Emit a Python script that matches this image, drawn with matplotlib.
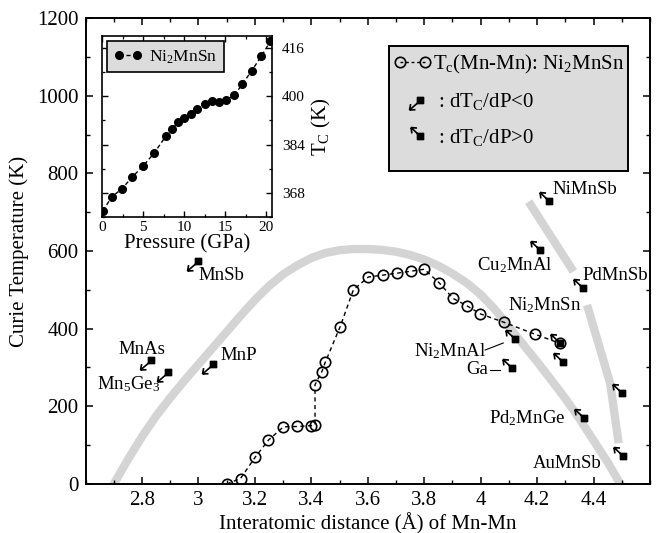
import numpy as np
import matplotlib
matplotlib.use('Agg')
import matplotlib.pyplot as plt
from matplotlib.path import Path
from matplotlib.lines import Line2D
from matplotlib.patches import Rectangle
from matplotlib.legend_handler import HandlerLine2D
from matplotlib.ticker import MultipleLocator, FormatStrFormatter

plt.rcParams['font.family'] = ['Liberation Serif', 'DejaVu Serif']
plt.rcParams['mathtext.fontset'] = 'custom'
plt.rcParams['mathtext.rm'] = 'Liberation Serif'
plt.rcParams['mathtext.it'] = 'Liberation Serif:italic'
plt.rcParams['mathtext.bf'] = 'Liberation Serif:bold'

# ---------------- data ----------------
# Ni2MnSn Tc vs Mn-Mn distance (open circles)
mn_dist = [3.100, 3.149, 3.202, 3.248, 3.301, 3.349, 3.398, 3.413, 3.413, 3.437,
           3.449, 3.502, 3.549, 3.602, 3.655, 3.705, 3.754, 3.800, 3.853, 3.902,
           3.951, 3.999, 4.084, 4.191, 4.282]
mn_tc = [0, 14, 70, 113, 147, 148, 150, 152, 256, 289,
         313, 405, 500, 533, 538, 543, 548, 553, 518, 478,
         459, 438, 416, 386, 362]

# grey guide curves
arc_d = [2.66, 2.70, 2.75, 2.80, 2.85, 2.90, 2.95, 3.00, 3.05, 3.10, 3.15, 3.20,
         3.25, 3.30, 3.35, 3.40, 3.45, 3.50, 3.55, 3.60, 3.65, 3.70, 3.75, 3.80,
         3.85, 3.90, 3.95, 4.00, 4.05, 4.10, 4.15, 4.20, 4.25, 4.30, 4.35, 4.40,
         4.45, 4.495, 4.52]
arc_t = [-50, 0, 63, 122, 175, 222, 266, 308, 350, 392, 434, 474,
         510, 540, 563, 582, 595, 602, 605, 605, 603, 598, 590, 578,
         562, 542, 518, 488, 450, 405, 360, 315, 268, 220, 168, 112,
         56, 0, -30]
right_a_d = [4.170, 4.329]
right_a_t = [727, 547]
right_b_d = [4.377, 4.459, 4.489]
right_b_t = [461, 259, 105]

# compounds with dTc/dP < 0
neg_names = ['MnSb', 'MnAs', 'Mn$_5$Ge$_3$', 'MnP']
neg_d = [3.000, 2.831, 2.891, 3.051]
neg_t = [573, 318, 289, 309]

# compounds with dTc/dP > 0
pos_names = ['NiMnSb', 'Cu$_2$MnAl', 'PdMnSb', 'Ni$_2$MnSn', 'Ni$_2$MnAl', 'Ga',
             '', 'Pd$_2$MnGe', '', 'AuMnSb']
pos_d = [4.241, 4.211, 4.362, 4.282, 4.123, 4.111, 4.292, 4.365, 4.501, 4.503]
pos_t = [730, 603, 504, 362, 373, 298, 315, 169, 234, 73]

# inset: Tc of Ni2MnSn vs pressure
pressure = [0.1, 1.2, 2.4, 3.7, 5.0, 6.35, 7.8, 8.5, 9.3, 10.0, 10.8,
            11.6, 12.5, 13.4, 14.2, 15.1, 16.1, 17.1, 18.2, 19.4, 20.5]
tc_pressure = [362.1, 366.7, 369.3, 373.3, 376.9, 381.2, 386.9, 389.2, 391.4, 392.9, 394.2,
               395.8, 397.4, 398.3, 398.0, 398.9, 400.3, 404.1, 408.4, 413.3, 418.3]

x_ticks = [2.8, 3.0, 3.2, 3.4, 3.6, 3.8, 4.0, 4.2, 4.4]
y_ticks = [0, 200, 400, 600, 800, 1000, 1200]
inset_yticks = [368, 384, 400, 416]

DPI = 100


def arrow_marker(tip, shift=0.0):
    """square + arrow marker; geometry in pixels (y up)."""
    h = 3.0
    tip = np.array(tip, float)
    u = -tip / np.hypot(*tip)
    arms = []
    for ang in (np.deg2rad(38), -np.deg2rad(38)):
        c, s = np.cos(ang), np.sin(ang)
        v = np.array([c * u[0] - s * u[1], s * u[0] + c * u[1]])
        arms.append(tip + 6.0 * v)
    verts = [(-h, -h), (h, -h), (h, h), (-h, h), (-h, -h),
             (0, 0), tuple(tip),
             tuple(tip), tuple(arms[0]),
             tuple(tip), tuple(arms[1])]
    verts = np.array(verts) + np.array([shift, 0])
    codes = [Path.MOVETO, Path.LINETO, Path.LINETO, Path.LINETO, Path.CLOSEPOLY,
             Path.MOVETO, Path.LINETO, Path.MOVETO, Path.LINETO, Path.MOVETO, Path.LINETO]
    m = np.max(np.abs(verts))
    size = 2 * m * 72.0 / DPI
    return Path(verts, codes), size


neg_path, neg_size = arrow_marker((-11, -9.5))
pos_path, pos_size = arrow_marker((-9.5, 9))
neg_path_l, neg_size_l = arrow_marker((-11, -9.5), shift=8.0)
pos_path_l, pos_size_l = arrow_marker((-9.5, 9), shift=8.0)

fig = plt.figure(figsize=(6.57, 5.33), dpi=DPI)
ax = fig.add_axes([0.1303, 0.092, 0.8590, 0.8742])

GREY = '#d4d4d4'
ax.plot(arc_d, arc_t, color=GREY, lw=6, solid_capstyle='butt', solid_joinstyle='round', zorder=1)
ax.plot(right_a_d, right_a_t, color=GREY, lw=6, solid_capstyle='butt', zorder=1)
ax.plot(right_b_d, right_b_t, color=GREY, lw=6, solid_capstyle='butt', solid_joinstyle='round', zorder=1)

ax.plot(mn_dist, mn_tc, color='k', lw=1, ls=(0, (3, 2.5)), marker='o', ms=7.5,
        mfc='none', mec='k', mew=1.2, zorder=3)

MEW = 1.2
ax.plot(neg_d, neg_t, ls='none', marker=neg_path, ms=neg_size, mfc='k', mec='k', mew=MEW, zorder=4)
ax.plot(pos_d, pos_t, ls='none', marker=pos_path, ms=pos_size, mfc='k', mec='k', mew=MEW, zorder=4)

FS_LAB = 13.5
# label offsets (points) relative to markers
neg_off = [(16.8, -10.3, 'center'), (-6.5, 8.2, 'center'), (-28.4, -9.0, 'center'), (18.4, 5.8, 'center')]
for name, d, t, (dx, dy, ha) in zip(neg_names, neg_d, neg_t, neg_off):
    ax.annotate(name, (d, t), xytext=(dx, dy), textcoords='offset points',
                ha=ha, va='center', fontsize=FS_LAB, zorder=5)
pos_off = [(2.4, 7.7, 'left'), (-18, -10.8, 'center'), (0, 8.9, 'left'), (-10.8, 27.4, 'center'),
           (-46.8, -8.9, 'center'), (-25.2, -1.2, 'center'), None, (-40.8, 0, 'center'), None,
           (-40, -5.5, 'center')]
for name, d, t, off in zip(pos_names, pos_d, pos_t, pos_off):
    if off is None or not name:
        continue
    dx, dy, ha = off
    ax.annotate(name, (d, t), xytext=(dx, dy), textcoords='offset points',
                ha=ha, va='center', fontsize=FS_LAB, zorder=5)
# connector lines for Ni2MnAl and Ga
ax.plot([4.016, 4.080], [345, 363], color='k', lw=0.8, zorder=4)
ax.plot([4.034, 4.070], [294, 294], color='k', lw=0.8, zorder=4)

ax.set_xlim(2.6, 4.6)
ax.set_ylim(0, 1200)
ax.set_xticks(x_ticks)
ax.set_yticks(y_ticks)
ax.xaxis.set_major_formatter(FormatStrFormatter('%g'))
ax.xaxis.set_minor_locator(MultipleLocator(0.1))
ax.yaxis.set_minor_locator(MultipleLocator(100))
ax.tick_params(which='both', direction='in', top=True, right=True, labelsize=15)
ax.tick_params(which='major', length=5, width=1.1, pad=5)
ax.tick_params(which='minor', length=3, width=1.0)
for sp in ax.spines.values():
    sp.set_linewidth(1.4)
ax.set_xlabel('Interatomic distance (Å) of Mn-Mn', fontsize=15, labelpad=2)
ax.set_ylabel('Curie Temperature (K)', fontsize=15, labelpad=6)

# main legend
ax.add_patch(Rectangle((0.5376, 0.672), 0.4234, 0.268, transform=ax.transAxes,
                       facecolor='#dcdcdc', edgecolor='k', lw=1.4, zorder=6))
h1 = Line2D([], [], color='k', lw=1, ls=(0, (2, 2)), marker='o', ms=7.5, mfc='none', mec='k', mew=1.2)
h2 = Line2D([], [], ls='none', marker=neg_path_l, ms=neg_size_l, mfc='k', mec='k', mew=MEW)
h3 = Line2D([], [], ls='none', marker=pos_path_l, ms=pos_size_l, mfc='k', mec='k', mew=MEW)
leg = ax.legend([h1, h2, h3],
                ['T$_\\mathrm{c}$(Mn-Mn): Ni$_2$MnSn', ' : dT$_\\mathrm{C}$/dP<0', ' : dT$_\\mathrm{C}$/dP>0'],
                loc='upper left', bbox_to_anchor=(0.546, 0.926), frameon=False, fontsize=15,
                numpoints=2, handlelength=1.8, handletextpad=0.1, labelspacing=0.74,
                borderpad=0, borderaxespad=0,
                handler_map={h2: HandlerLine2D(numpoints=1), h3: HandlerLine2D(numpoints=1)})
leg.set_zorder(7)

# inset
axi = fig.add_axes([0.1553, 0.5929, 0.2588, 0.3396])
axi.plot(pressure, tc_pressure, color='k', lw=1, ls=(0, (3, 2)), marker='o', ms=5.5,
         mfc='k', mec='k', label='Ni$_2$MnSn')
axi.set_xlim(0, 20.7)
axi.set_ylim(360, 420)
axi.xaxis.set_major_locator(MultipleLocator(5))
axi.xaxis.set_minor_locator(MultipleLocator(2.5))
axi.set_yticks(inset_yticks)
axi.yaxis.set_minor_locator(MultipleLocator(8))
axi.tick_params(which='both', direction='in', top=True, right=True, left=True, bottom=True,
                labelleft=False, labelright=True, labelsize=11)
axi.tick_params(axis='x', which='major', pad=3)
axi.tick_params(axis='y', which='major', pad=7)
axi.tick_params(which='major', length=4, width=1.0)
axi.tick_params(which='minor', length=2.5, width=0.9)
for sp in axi.spines.values():
    sp.set_linewidth(1.2)
axi.set_xlabel('Pressure (GPa)', fontsize=15, labelpad=0)
axi.yaxis.set_label_position('right')
axi.set_ylabel('T$_\\mathrm{C}$ (K)', fontsize=15, labelpad=4)
lgi = axi.legend(loc='upper left', fontsize=12.5, numpoints=2, handlelength=1.6,
                 handletextpad=0.4, borderpad=0.4, borderaxespad=0.3, fancybox=False,
                 framealpha=1, facecolor='#dcdcdc', edgecolor='k')
lgi.get_frame().set_linewidth(1.2)

fig.savefig('out.png', dpi=DPI)
